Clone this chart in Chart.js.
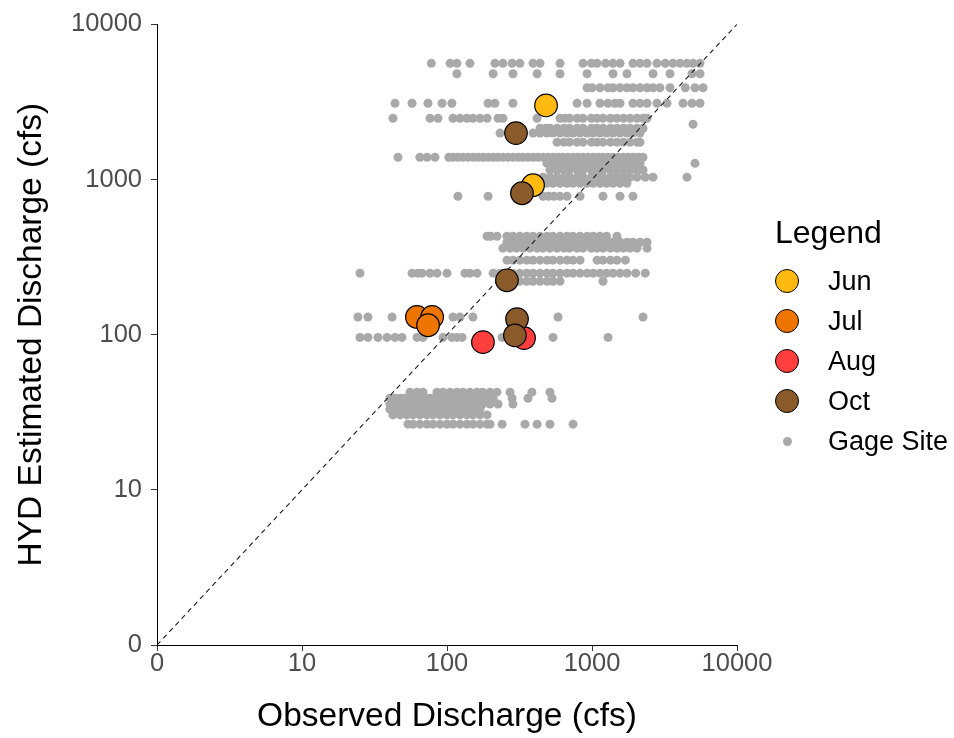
<!DOCTYPE html>
<html>
<head>
<meta charset="utf-8">
<script src="https://cdn.jsdelivr.net/npm/chart.js@4.4.1/dist/chart.umd.min.js"></script>
<style>
  html, body { margin: 0; padding: 0; background: #fff; }
  #wrap { position: relative; width: 954px; height: 738px; font-family: "Liberation Sans", Arial, sans-serif; }
  #legend { position: absolute; left: 0; top: 0; width: 954px; height: 738px; pointer-events: none; }
  .lg-title { position: absolute; left: 775px; top: 212px; height: 40px; line-height: 40px; font-size: 32px; color: #000; }
  .lg-item { position: absolute; left: 770px; height: 30px; line-height: 30px; font-size: 27px; color: #000; }
  .lg-mark { position: absolute; border-radius: 50%; box-sizing: border-box; }
  .lg-text { position: absolute; left: 58px; top: 0; white-space: nowrap; }
</style>
</head>
<body>
<div id="wrap">
  <canvas id="myChart" width="954" height="738"></canvas>
  <div id="legend"></div>
</div>
<script>
// axis ticks (value 1 is labelled as 0)
const tickVals = [1, 10, 100, 1000, 10000];
const refLine = [1, 10000];

// gage site records: each row shares one estimated discharge
const gageEst = [5600, 4800, 3900, 3100, 2480, 2270, 2140, 1990, 1740, 1390,
    1270, 1150, 1035, 946, 780, 431, 394, 361, 302, 249, 221, 130, 96,
    42.6, 38.9, 35.7, 33.1, 30.4, 26.5];
const gageObs = [
    [78, 105, 117, 144, 214, 243, 281, 318, 392, 438, 602, 867, 990, 1083, 1240, 1396, 1560, 1917, 2143, 2395, 2806, 3200, 3620, 4049, 4520, 4977, 5557],
    [117, 208, 285, 418, 602, 925, 1396, 1742, 2636, 3452, 4893, 5557],
    [925, 1000, 1135, 1290, 1396, 1560, 1742, 1917, 2143, 2395, 2636, 2942, 3452, 4400, 5130, 5834],
    [43.8, 57.4, 73.9, 92.4, 108, 192, 214, 285, 789, 925, 1135, 1290, 1440, 1560, 1917, 2143, 2395, 2806, 3290, 4246, 4893, 5557],
    [42.4, 76.4, 86.7, 110, 123, 137, 151, 169, 189, 225, 243, 418, 602, 650, 700, 789, 867, 990, 1083, 1191, 1340, 1487, 1650, 1830, 2043, 2248, 2395],
    [4977],
    [438, 480, 513, 574, 640, 700, 789, 867, 990, 1083, 1191, 1340, 1487, 1650, 1830, 2043, 2248],
    [232, 392, 438, 489, 538, 602, 672, 740, 827, 925, 1020, 1135, 1260, 1396, 1560, 1742, 1917, 2143],
    [574, 640, 700, 789, 867, 990, 1083, 1191, 1340, 1487, 1650, 1830, 2043, 2143],
    [45.9, 65, 72.7, 82.6, 103, 110, 119, 129, 140, 152, 164, 178, 192, 208, 225, 243, 263, 285, 310, 335, 362, 392, 425, 459, 497, 538, 583, 630, 680, 740, 800, 867, 940, 1020, 1100, 1190, 1290, 1396, 1510, 1640, 1780, 1917, 2080, 2248],
    [489, 538, 602, 672, 740, 827, 925, 1020, 1135, 1260, 1396, 1560, 1742, 1917, 2143, 5130],
    [513, 574, 640, 700, 789, 867, 990, 1083, 1191, 1340, 1487, 1650, 1830, 2043, 2248],
    [459, 513, 574, 640, 700, 789, 867, 990, 1083, 1191, 1340, 1487, 1650, 1830, 2043, 2330, 2636, 4520],
    [489, 538, 602, 672, 740, 827, 925, 1020, 1135, 1260, 1396, 1560, 1742],
    [119, 192, 459, 500, 545, 600, 672, 827, 1191, 1560, 1917],
    [189, 200, 221, 259, 285, 318, 355, 392, 438, 489, 538, 602, 672, 740, 827, 925, 1020, 1135, 1260, 1487],
    [259, 285, 318, 355, 392, 438, 489, 538, 602, 672, 740, 827, 925, 1020, 1135, 1260, 1396, 1560, 1742, 1917, 2143, 2395],
    [243, 272, 302, 335, 373, 418, 459, 513, 574, 640, 700, 789, 867, 990, 1083, 1191, 1340, 1487, 1650, 1830, 2043, 2395],
    [259, 285, 318, 355, 392, 438, 489, 538, 602, 672, 740, 827, 1083, 1191, 1340, 1487, 1700],
    [25.1, 57.4, 63, 67.3, 76.4, 85.3, 100, 133, 144, 161, 208, 232, 259, 285, 318, 355, 392, 438, 489, 538, 602, 672, 740, 827, 925, 1020, 1135, 1260, 1396, 1560, 1742, 2000, 2330],
    [318, 355, 392, 438, 489, 538, 602, 1191],
    [24.3, 28.5, 41.8, 110, 123, 151, 583, 2248],
    [25.1, 28.5, 33.4, 38.6, 43.8, 48.9, 62.1, 68.3, 93.8, 108, 117, 127, 240, 538, 1290],
    [55.6, 62.1, 68.3, 85.3, 93.8, 105, 117, 129, 144, 161, 176, 198, 221, 272, 385, 513],
    [40.4, 43.8, 47.5, 51.2, 55.6, 59.9, 65, 70.5, 76.4, 82.6, 89.5, 96.9, 105, 113, 123, 133, 144, 156, 169, 189, 208, 281, 362, 530],
    [40.4, 45, 50, 55.6, 62.1, 68.3, 76.4, 85.3, 93.8, 105, 117, 129, 144, 161, 176, 198, 225, 285],
    [40.4, 45, 50, 55.6, 62.1, 68.3, 76.4, 85.3, 93.8, 105, 117, 129, 144, 161, 169],
    [42.4, 47.5, 52.8, 58.3, 65, 72.7, 80, 89.5, 100, 110, 123, 137, 151, 169, 189],
    [53.8, 58.3, 65, 72.7, 80, 89.5, 100, 110, 123, 137, 151, 169, 189, 198, 240, 345, 418, 513, 740]
];

// HYD model runs by month
const junObs = [482, 392];
const junEst = [3000, 918];
const julObs = [62, 79, 74];
const julEst = [130, 130, 115];
const augObs = [177, 340];
const augEst = [89.5, 95];
const octObs = [299, 329, 259, 304, 294];
const octEst = [1990, 815, 224, 126, 99];

const monthNames = ['Jun', 'Jul', 'Aug', 'Oct'];
const monthColors = ['#FFB90F', '#EE7600', '#FF3E3E', '#8B5A2B'];
const gageColor = '#A9A9A9';

function toPoints(xs, ys) {
    return xs.map((x, i) => ({ x: x, y: ys[i] }));
}

const gagePoints = [];
gageObs.forEach((row, i) => {
    row.forEach(x => gagePoints.push({ x: x, y: gageEst[i] }));
});

const monthData = [
    toPoints(junObs, junEst),
    toPoints(julObs, julEst),
    toPoints(augObs, augEst),
    toPoints(octObs, octEst)
];

const monthSets = monthData.map((pts, i) => ({
    label: monthNames[i],
    data: pts,
    pointRadius: 11.3,
    pointBackgroundColor: monthColors[i],
    pointBorderColor: '#000',
    pointBorderWidth: 1.2,
    order: 3 - i
}));

function setLogTicks(scale) {
    scale.ticks = tickVals.map(v => ({ value: v }));
}

const tickFont = { family: '"Liberation Sans", Arial, sans-serif', size: 25.5 };
const titleFont = { family: '"Liberation Sans", Arial, sans-serif', size: 33.5 };

const ctx = document.getElementById('myChart').getContext('2d');
const myChart = new Chart(ctx, {
    type: 'scatter',
    data: {
        datasets: [
            {
                label: 'Gage Site',
                data: gagePoints,
                pointRadius: 4.5,
                pointBackgroundColor: gageColor,
                pointBorderWidth: 0,
                order: 10
            },
            {
                label: '1:1',
                data: toPoints(refLine, refLine),
                showLine: true,
                borderColor: '#1a1a1a',
                borderWidth: 1.1,
                borderDash: [5, 4],
                pointRadius: 0,
                order: 5
            },
            ...monthSets
        ]
    },
    options: {
        responsive: false,
        animation: false,
        events: [],
        layout: { padding: { top: 24, right: 217, bottom: 0, left: 0 } },
        plugins: {
            legend: { display: false },
            tooltip: { enabled: false }
        },
        scales: {
            x: {
                type: 'logarithmic',
                min: 1,
                max: 10000,
                afterBuildTicks: setLogTicks,
                afterFit: s => { s.height = 93; },
                ticks: {
                    callback: v => (v === 1 ? '0' : String(v)),
                    font: tickFont,
                    color: '#4D4D4D',
                    padding: -2,
                    maxRotation: 0,
                    autoSkip: false
                },
                grid: { drawOnChartArea: false, drawTicks: true, tickLength: 6, color: '#333' },
                border: { display: true, color: '#000', width: 1 },
                title: {
                    display: true,
                    text: 'Observed Discharge (cfs)',
                    font: titleFont,
                    color: '#000',
                    padding: { top: 0, bottom: 1 }
                }
            },
            y: {
                type: 'logarithmic',
                min: 1,
                max: 10000,
                afterBuildTicks: setLogTicks,
                afterFit: s => { s.width = 157; },
                ticks: {
                    callback: v => (v === 1 ? '0' : String(v)),
                    font: tickFont,
                    color: '#4D4D4D',
                    padding: 9,
                    autoSkip: false
                },
                grid: { drawOnChartArea: false, drawTicks: true, tickLength: 6, color: '#333' },
                border: { display: true, color: '#000', width: 1 },
                title: {
                    display: true,
                    text: 'HYD Estimated Discharge (cfs)',
                    font: titleFont,
                    color: '#000',
                    padding: { top: 12, bottom: 0 }
                }
            }
        }
    }
});

// legend drawn beside the plot
const legendElem = document.getElementById('legend');
const titleElem = document.createElement('div');
titleElem.className = 'lg-title';
titleElem.textContent = 'Legend';
legendElem.appendChild(titleElem);

const legendRows = monthNames.concat(['Gage Site']);
legendRows.forEach((name, i) => {
    const item = document.createElement('div');
    item.className = 'lg-item';
    item.style.top = (281 + i * 40 - 15) + 'px';
    const mark = document.createElement('div');
    mark.className = 'lg-mark';
    if (i < monthNames.length) {
        mark.style.width = '24px';
        mark.style.height = '24px';
        mark.style.left = '5px';
        mark.style.top = '3px';
        mark.style.background = monthColors[i];
        mark.style.border = '1.2px solid #000';
    } else {
        mark.style.width = '9px';
        mark.style.height = '9px';
        mark.style.left = '12.5px';
        mark.style.top = '10.5px';
        mark.style.background = gageColor;
    }
    const text = document.createElement('div');
    text.className = 'lg-text';
    text.textContent = name;
    item.appendChild(mark);
    item.appendChild(text);
    legendElem.appendChild(item);
});
</script>
</body>
</html>
